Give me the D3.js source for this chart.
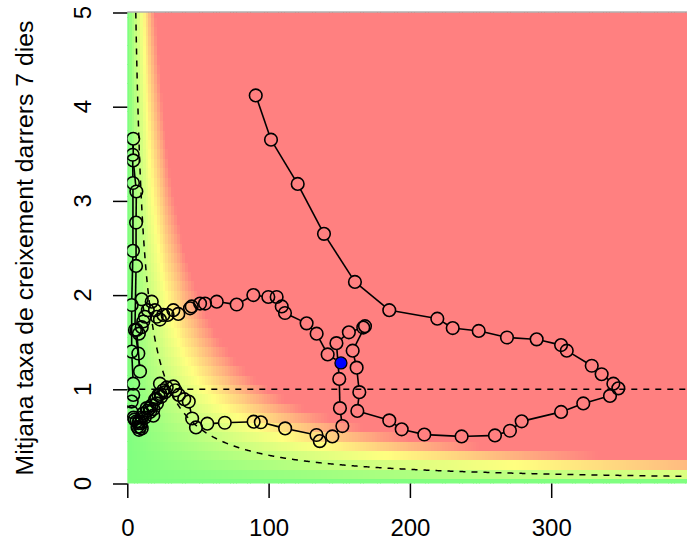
<!DOCTYPE html>
<html><head><meta charset="utf-8">
<script src="https://cdn.jsdelivr.net/npm/d3@7"></script>
<style>body{margin:0;background:#fff} svg{display:block;font-family:"Liberation Sans",Arial,Helvetica,sans-serif}</style>
</head><body><svg id="c" width="687" height="545"></svg>
<script>
// ---- data ----
const incid = [90.9,101.7,120.6,139.2,161.1,185.4,219.4,230.3,248.7,268.7,289.7,307,311,328.7,335.7,344,347.5,341.6,322.7,307,279.1,270.8,260.2,236.6,210.2,194.2,185.4,162.8,164.2,162.3,159.5,168.2,167,156.8,148,150,150.5,152.2,145.1,136.2,133.9,111.7,94.5,89.4,69,56.6,48.6,45.9,43.5,40.3,36.5,34,32.6,27.9,23.1,
  26.8,25.5,23.5,22,24,20.5,19.6,21,17.3,18.5,15.8,16.1,18.4,14.2,13.7,11.3,12.4,10.2,9.6,8.5,7.8,8.3,9,10.2,7.2,6.5,5.2,4.5,3.1,3.1,4.2,4.2,
  3.1,3.1,4,4,3.8,4.2,4.2,6.4,6.2,6.2,5.4,7.8,9,
  6.6,8.2,10.2,11.3,12.5,10.2,14.5,17.3,19.6,20.8,23.1,25.5,28.5,32.6,36.1,44.4,45.6,51.5,55,63.3,77.4,89.2,99.8,105.7,109.3,111.6,126.9,134,141.8,151.2];
const rate = [4.12,3.65,3.18,2.65,2.14,1.84,1.75,1.65,1.62,1.55,1.53,1.47,1.41,1.25,1.16,1.06,1.01,0.93,0.85,0.76,0.66,0.56,0.51,0.50,0.52,0.575,0.67,0.77,0.97,1.23,1.41,1.67,1.655,1.605,1.49,1.11,0.80,0.61,0.50,0.45,0.515,0.585,0.65,0.656,0.645,0.635,0.595,0.69,0.87,0.895,0.94,0.99,1.03,1.02,1.06,
  0.97,0.99,0.95,0.94,0.92,0.90,0.89,0.85,0.83,0.79,0.80,0.76,0.72,0.77,0.80,0.745,0.70,0.70,0.64,0.66,0.64,0.57,0.60,0.585,0.60,0.66,0.68,0.70,0.76,0.87,0.94,1.06,
  1.40,1.895,2.47,3.19,3.49,3.66,3.43,3.10,2.77,2.31,1.63,1.38,1.19,
  1.63,1.59,1.66,1.72,1.77,1.955,1.84,1.93,1.84,1.77,1.74,1.79,1.79,1.84,1.80,1.86,1.88,1.91,1.91,1.93,1.90,2.00,1.98,1.98,1.88,1.81,1.70,1.59,1.37,1.28];
const xTicks = [0, 100, 200, 300];
const yTicks = [0, 1, 2, 3, 4, 5];
const yTitle = "Mitjana taxa de creixement darrers 7 dies";
const epgLine = 30;          // dashed curve: rate * incidence = 30
const rateRef = 1;           // dashed horizontal reference
const heatStops = [0, 55, 100];
const heatColors = ["#80FF80", "#FFFF80", "#FF8080"];
const gridX = d3.range(0, 401, 2);
const gridY = d3.range(0, 51).map(i => i / 10);

// ---- drawing ----
const svg = d3.select("#c");
const x = d3.scaleLinear().domain([0, 400]).range([127.3, 127.3 + 400 * 1.413]);
const y = d3.scaleLinear().domain([0, 5]).range([483.5, 12.5]);
const col = d3.scaleLinear().domain(heatStops).range(heatColors).interpolate(d3.interpolateRgb).clamp(true);

svg.append("clipPath").attr("id", "clip").append("rect")
  .attr("x", x(0)).attr("y", y(5)).attr("width", 687 - x(0)).attr("height", y(0) - y(5));
const plot = svg.append("g").attr("clip-path", "url(#clip)");

const cells = [];
gridY.forEach(gy => gridX.forEach(gx => cells.push({gx, gy})));
plot.append("g").attr("shape-rendering", "crispEdges").selectAll("rect").data(cells).join("rect")
  .attr("x", d => x(d.gx - 1)).attr("y", d => y(d.gy + 0.05))
  .attr("width", d => x(d.gx + 1) - x(d.gx - 1) + 0.4)
  .attr("height", d => y(d.gy - 0.05) - y(d.gy + 0.05) + 0.4)
  .attr("fill", d => col(d.gx * d.gy));

// top thin border
svg.append("line").attr("x1", x(0)).attr("x2", 687).attr("y1", 12).attr("y2", 12)
  .attr("stroke", "#8a8a8a").attr("stroke-width", 1);

// dashed curve
const cx = d3.range(epgLine / 5, 401, 0.5);
plot.append("path").datum(cx)
  .attr("d", d3.line().x(v => x(v)).y(v => y(epgLine / v)))
  .attr("fill", "none").attr("stroke", "#000").attr("stroke-width", 1.5).attr("stroke-dasharray", "6,6");
plot.append("line").attr("x1", x(0)).attr("x2", x(400)).attr("y1", y(rateRef)).attr("y2", y(rateRef))
  .attr("stroke", "#000").attr("stroke-width", 1.5).attr("stroke-dasharray", "6,6");

// trajectory (type "b": gaps around points)
const R = 6.3;
const pts = incid.map((v, i) => [x(v), y(rate[i])]);
const segs = [];
for (let i = 0; i < pts.length - 1; i++) {
  const [x1, y1] = pts[i], [x2, y2] = pts[i + 1];
  const dx = x2 - x1, dy = y2 - y1, d = Math.hypot(dx, dy);
  if (d > 2 * R) {
    const ux = dx / d, uy = dy / d;
    segs.push([x1 + ux * R, y1 + uy * R, x2 - ux * R, y2 - uy * R]);
  }
}
plot.append("g").selectAll("line").data(segs).join("line")
  .attr("x1", d => d[0]).attr("y1", d => d[1]).attr("x2", d => d[2]).attr("y2", d => d[3])
  .attr("stroke", "#000").attr("stroke-width", 1.6);
plot.append("g").selectAll("circle").data(pts.slice(0, -1)).join("circle")
  .attr("cx", d => d[0]).attr("cy", d => d[1]).attr("r", R)
  .attr("fill", "none").attr("stroke", "#000").attr("stroke-width", 1.6);
const last = pts[pts.length - 1];
plot.append("circle").attr("cx", last[0]).attr("cy", last[1]).attr("r", 6)
  .attr("fill", "#0000FF").attr("stroke", "#000").attr("stroke-width", 1.3);

// axes
const xa = svg.append("g").attr("transform", `translate(0,${y(0)})`)
  .call(d3.axisBottom(x).tickValues(xTicks).tickSize(14.5).tickPadding(21).tickFormat(d3.format("d")));
xa.select(".domain").remove();
xa.selectAll("line").attr("stroke-width", 1.5);
xa.selectAll("text").attr("font-size", 24).attr("font-family", "Liberation Sans, Arial, sans-serif").attr("fill", "#000");

const ya = svg.append("g").attr("transform", `translate(${x(0)},0)`)
  .call(d3.axisLeft(y).tickValues(yTicks).tickSize(14.3).tickFormat(""));
ya.select(".domain").remove();
ya.selectAll("line").attr("stroke-width", 1.5);
svg.append("g").selectAll("text").data(yTicks).join("text")
  .attr("transform", d => `translate(91,${y(d)}) rotate(-90)`)
  .attr("text-anchor", "middle").attr("font-size", 24).text(d => d);

svg.append("text").attr("transform", `translate(33,${(y(0) + y(5)) / 2}) rotate(-90)`)
  .attr("text-anchor", "middle").attr("font-size", 24.8).text(yTitle);
</script></body></html>
